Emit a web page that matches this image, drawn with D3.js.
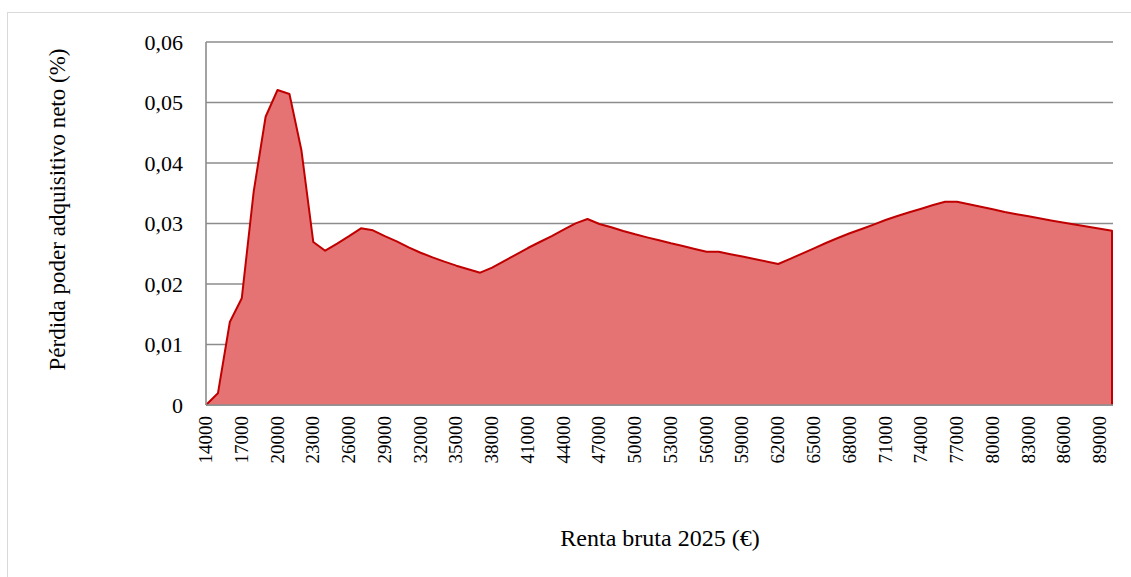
<!DOCTYPE html>
<html>
<head>
<meta charset="utf-8">
<script src="https://cdn.jsdelivr.net/npm/d3@7"></script>
<style>
  body { margin: 0; background: #fff; }
</style>
</head>
<body>
<svg id="chart" width="1131" height="577" font-family="'Liberation Serif', 'Times New Roman', Times, 'DejaVu Serif', serif"></svg>
<script>
// income categories 14000 .. 90000, step 1000
var rentas = d3.range(14000, 90001, 1000);

// loss of purchasing power
var perdida = [
  0, 0.00193, 0.01372, 0.01764, 0.03526, 0.04765, 0.05207, 0.05140, 0.04215, 0.02694,
  0.02550, 0.02667, 0.02790, 0.02920, 0.02888, 0.02790, 0.02705, 0.02606, 0.02517, 0.02441,
  0.02369, 0.02303, 0.02243, 0.02187, 0.02270, 0.02380, 0.02485, 0.02595, 0.02694, 0.02793,
  0.02898, 0.03003, 0.03074, 0.02992, 0.02937, 0.02876, 0.02821, 0.02771, 0.02722, 0.02672,
  0.02628, 0.02579, 0.02534, 0.02534, 0.02492, 0.02453, 0.02413, 0.02372, 0.02331, 0.02415,
  0.02503, 0.02590, 0.02678, 0.02760, 0.02838, 0.02909, 0.02981, 0.03058, 0.03124, 0.03185,
  0.03245, 0.03306, 0.03360, 0.03360, 0.03317, 0.03276, 0.03234, 0.03190, 0.03154, 0.03119,
  0.03081, 0.03045, 0.03011, 0.02978, 0.02947, 0.02914, 0.02881
];

var yTicks = [0, 0.01, 0.02, 0.03, 0.04, 0.05, 0.06];
var xTickLabels = rentas.filter(function (d, i) { return i % 3 === 0; });

var datos = rentas.map(function (r, i) { return { renta: r, valor: perdida[i] }; });

var svg = d3.select("#chart");

var M = { left: 206, right: 1112, top: 42, bottom: 405 };

// outer frame (only top and left visible)
svg.append("rect")
    .attr("x", 7.5).attr("y", 12.5)
    .attr("width", 1140).attr("height", 600)
    .attr("fill", "none")
    .attr("stroke", "#d9d9d9")
    .attr("stroke-width", 1);

var x = d3.scalePoint()
    .domain(rentas)
    .range([M.left, M.right]);

var y = d3.scaleLinear()
    .domain([0, 0.06])
    .range([M.bottom, M.top]);

// gridlines
svg.append("g")
    .selectAll("line")
    .data(yTicks)
    .join("line")
    .attr("x1", M.left).attr("x2", M.right + 1)
    .attr("y1", function (d) { return y(d); })
    .attr("y2", function (d) { return y(d); })
    .attr("stroke", "#8c8c8c")
    .attr("stroke-width", 1.6);

// area
var area = d3.area()
    .x(function (d) { return x(d.renta); })
    .y0(y(0))
    .y1(function (d) { return y(d.valor); });

svg.append("path")
    .datum(datos)
    .attr("d", area)
    .attr("fill", "#e57373")
    .attr("stroke", "none");

var line = d3.line()
    .x(function (d) { return x(d.renta); })
    .y(function (d) { return y(d.valor); });

// outline incl. the closing right edge
var outline = [{ renta: rentas[0], valor: 0 }].concat(datos)
    .concat([{ renta: rentas[rentas.length - 1], valor: 0 }]);
svg.append("path")
    .datum(outline)
    .attr("d", line)
    .attr("fill", "none")
    .attr("stroke", "#c00000")
    .attr("stroke-width", 2)
    .attr("stroke-linejoin", "round");

// axis lines
svg.append("line")
    .attr("x1", M.left).attr("x2", M.left)
    .attr("y1", M.top).attr("y2", M.bottom)
    .attr("stroke", "#8c8c8c").attr("stroke-width", 1.6);
svg.append("line")
    .attr("x1", M.left).attr("x2", M.right + 1)
    .attr("y1", M.bottom).attr("y2", M.bottom)
    .attr("stroke", "#8c8c8c").attr("stroke-width", 1.6);

// y tick labels
var fmt = function (d) { return d === 0 ? "0" : d3.format(".2f")(d).replace(".", ","); };
svg.append("g")
    .selectAll("text")
    .data(yTicks)
    .join("text")
    .attr("x", 183)
    .attr("y", function (d) { return y(d); })
    .attr("dy", "0.35em")
    .attr("text-anchor", "end")
    .attr("font-size", 22)
    .text(fmt);

// x tick labels, rotated
svg.append("g")
    .selectAll("text")
    .data(xTickLabels)
    .join("text")
    .attr("transform", function (d) { return "translate(" + (x(d) + 6) + ",416) rotate(-90)"; })
    .attr("text-anchor", "end")
    .attr("font-size", 19)
    .text(function (d) { return d; });

// axis titles
svg.append("text")
    .attr("transform", "translate(65," + ((M.top + M.bottom) / 2 - 14) + ") rotate(-90)")
    .attr("text-anchor", "middle")
    .attr("font-size", 23)
    .text("Pérdida poder adquisitivo neto (%)");

svg.append("text")
    .attr("x", 660)
    .attr("y", 546)
    .attr("text-anchor", "middle")
    .attr("font-size", 24)
    .text("Renta bruta 2025 (€)");
</script>
</body>
</html>
